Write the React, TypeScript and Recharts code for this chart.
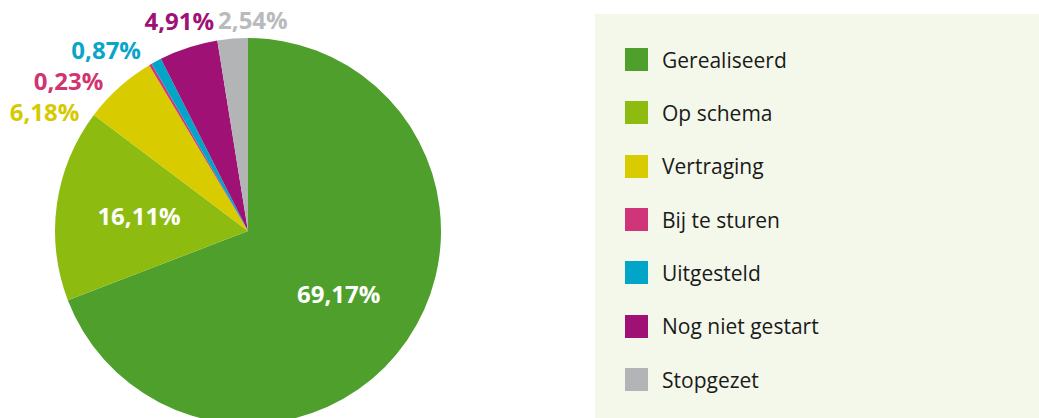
import { PieChart, Pie, Cell, Legend } from 'recharts'

const categories = [
  'Gerealiseerd',
  'Op schema',
  'Vertraging',
  'Bij te sturen',
  'Uitgesteld',
  'Nog niet gestart',
  'Stopgezet',
]
const shares = [69.17, 16.11, 6.18, 0.23, 0.87, 4.91, 2.54]
const sliceColors = ['#4e9f2c', '#8dbb10', '#d8cb00', '#d0357a', '#00a5c8', '#a01175', '#b2b4b6']
const labelColors = ['#ffffff', '#ffffff', '#d6c900', '#d0356f', '#0aa5c8', '#a01175', '#b8babd']

const data = categories.map((name, i) => ({ name, value: shares[i] }))

const fmt = (v: number) => v.toFixed(2).replace('.', ',') + '%'

const LABEL_FONT = 24
const INSIDE_MIN = 10
const RAD = Math.PI / 180

// outside labels: walk from the last slice backwards and push each label
// around the pie until its box clears the one before it. Done twice: the
// second pass starts from the slice angles pulled back by half the mean push,
// so the group sits more evenly around the small slices.
function layoutOutside(cx: number, cy: number, r: number) {
  const total = shares.reduce((a, b) => a + b, 0)
  const mids: number[] = []
  let acc = 0
  shares.forEach((v) => {
    let a = 90 - (360 * (acc + v / 2)) / total
    while (a < -90) a += 360
    mids.push(a)
    acc += v
  })
  const place = (a: number, w: number, h: number) => {
    const d = r + 8 + (w / 2) * Math.abs(Math.cos(a * RAD)) + (h / 2) * Math.abs(Math.sin(a * RAD))
    return { x: cx + d * Math.cos(a * RAD), y: cy - d * Math.sin(a * RAD) }
  }
  const pass = (wanted: number[]) => {
    const res: Record<number, { x: number; y: number; a: number }> = {}
    let prev: { x: number; y: number; w: number; h: number; a: number } | null = null
    for (let i = shares.length - 1; i >= 0; i--) {
      if (shares[i] >= INSIDE_MIN) continue
      const w = fmt(shares[i]).length * 14
      const h = 20
      let a = prev ? Math.max(wanted[i], prev.a) : wanted[i]
      let p = place(a, w, h)
      while (
        prev &&
        Math.abs(p.x - prev.x) < (w + prev.w) / 2 + 2 &&
        Math.abs(p.y - prev.y) < (h + prev.h) / 2 + 10
      ) {
        a += 0.5
        p = place(a, w, h)
      }
      res[i] = { ...p, a }
      prev = { ...p, w, h, a }
    }
    return res
  }
  const first = pass(mids)
  const keys = Object.keys(first).map(Number)
  const push = keys.reduce((s, k) => s + (first[k].a - mids[k]), 0) / keys.length
  return pass(mids.map((m) => m - push / 2))
}

function renderLabel(props: any) {
  const { cx, cy, midAngle, outerRadius, index, value } = props
  let x: number
  let y: number
  if (value >= INSIDE_MIN) {
    const d = outerRadius * 0.57
    x = cx + d * Math.cos(-midAngle * RAD)
    y = cy + d * Math.sin(-midAngle * RAD)
  } else {
    const p = layoutOutside(cx, cy, outerRadius)[index]
    x = p.x
    y = p.y
  }
  return (
    <text x={x} y={y} fill={labelColors[index]} textAnchor="middle" dominantBaseline="central"
      fontSize={LABEL_FONT} fontWeight={700} fontFamily="'Open Sans', sans-serif">
      {fmt(value)}
    </text>
  )
}

function LegendBox() {
  return (
    <ul style={{ listStyle: 'none', margin: 0, padding: '19px 0 0 0' }}>
      {categories.map((name, i) => (
        <li key={name} style={{ display: 'flex', alignItems: 'center', height: 53.33 }}>
          <span style={{ display: 'inline-block', width: 23, height: 23, marginLeft: 30, background: sliceColors[i] }} />
          <span style={{ marginLeft: 14, fontSize: 21, color: '#1a1a1a', fontFamily: "'Open Sans', sans-serif" }}>
            {name}
          </span>
        </li>
      ))}
    </ul>
  )
}

export default function App() {
  return (
    <div style={{ position: 'absolute', left: 0, top: 0, width: 1039, height: 418, background: '#fff', overflow: 'hidden' }}>
      <PieChart width={1039} height={418} margin={{ top: 0, right: 0, bottom: 0, left: 0 }}>
        <Pie
          data={data}
          dataKey="value"
          nameKey="name"
          cx={248}
          cy={231}
          outerRadius={193}
          startAngle={90}
          endAngle={-270}
          stroke="none"
          labelLine={false}
          label={renderLabel}
          isAnimationActive={false}
        >
          {data.map((d, i) => (
            <Cell key={d.name} fill={sliceColors[i]} />
          ))}
        </Pie>
        <Legend
          layout="vertical"
          align="right"
          verticalAlign="top"
          content={<LegendBox />}
          wrapperStyle={{ left: 595, top: 14, width: 444, height: 404, background: '#f4f8ea' }}
        />
      </PieChart>
    </div>
  )
}
